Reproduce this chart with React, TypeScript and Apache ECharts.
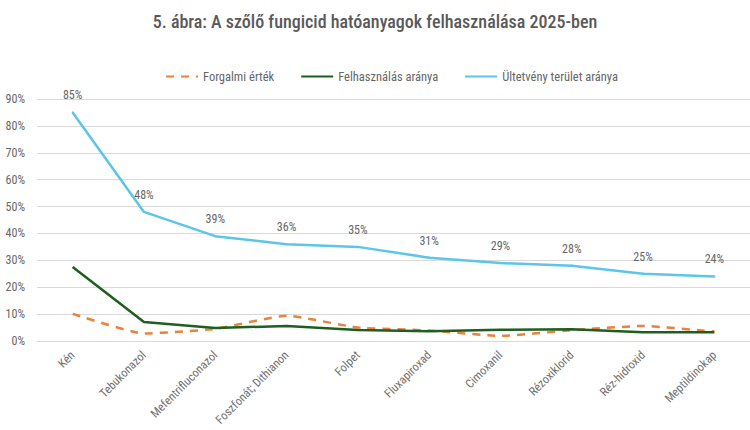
import React, { useEffect, useRef } from "react";
import * as echarts from "echarts";

const categories = [
  "Kén",
  "Tebukonazol",
  "Mefentrifluconazol",
  "Foszfonát; Dithianon",
  "Folpet",
  "Fluxapiroxad",
  "Cimoxanil",
  "Rézoxiklorid",
  "Réz-hidroxid",
  "Meptildinokap",
];
const forgalmiErtek = [10.1, 2.8, 4.5, 9.4, 5.0, 3.9, 1.9, 4.0, 5.6, 3.5];
const felhasznalasAranya = [27.5, 7.1, 4.8, 5.6, 4.1, 3.6, 4.2, 4.4, 3.3, 3.3];
const ultetvenyAranya = [85, 48, 39, 36, 35, 31, 29, 28, 25, 24];
const seriesNames = ["Forgalmi érték", "Felhasználás aránya", "Ültetvény terület aránya"];
const titleText = "5. ábra: A szőlő fungicid hatóanyagok felhasználása 2025-ben";

export default function App() {
  const ref = useRef<HTMLDivElement>(null);
  useEffect(() => {
    if (!ref.current) return;
    document.body.style.margin = "0";
    const chart = echarts.init(ref.current, undefined, { renderer: "svg" });
    const font = "'Roboto Condensed', 'Liberation Sans', sans-serif";
    chart.setOption({
      animation: false,
      backgroundColor: "#ffffff",
      title: {
        text: titleText,
        left: "center",
        top: 7,
        textStyle: {
          fontFamily: font,
          fontSize: 18,
          fontWeight: 500,
          color: "#595959",
        },
      },
      legend: {
        left: 160,
        top: 65,
        itemWidth: 32,
        itemHeight: 14,
        itemGap: 26,
        itemStyle: { opacity: 0 },
        textStyle: { fontFamily: font, fontSize: 12.5, color: "#666666" },
        data: seriesNames,
      },
      grid: { left: 37, top: 99, height: 242, width: 724 },
      xAxis: {
        type: "category",
        data: categories,
        boundaryGap: true,
        axisLine: { show: false },
        axisTick: { show: false },
        axisLabel: {
          rotate: 45,
          interval: 0,
          margin: 12,
          fontFamily: font,
          fontSize: 12,
          color: "#707070",
        },
      },
      yAxis: {
        type: "value",
        min: 0,
        max: 90,
        interval: 10,
        axisLine: { show: false },
        axisTick: { show: false },
        axisLabel: {
          formatter: "{value}%",
          fontFamily: font,
          fontSize: 12,
          color: "#666666",
          margin: 12,
        },
        splitLine: { lineStyle: { color: "#d9d9d9", width: 1 } },
      },
      series: [
        {
          name: seriesNames[0],
          type: "line",
          data: forgalmiErtek,
          symbol: "none",
          smooth: 0.15,
          color: "#E8823C",
          lineStyle: { color: "#E8823C", width: 2.5, type: [8, 7] },
          z: 3,
        },
        {
          name: seriesNames[1],
          type: "line",
          data: felhasznalasAranya,
          symbol: "none",
          smooth: false,
          color: "#1F5E1F",
          lineStyle: { color: "#1F5E1F", width: 2.5 },
          z: 4,
        },
        {
          name: seriesNames[2],
          type: "line",
          data: ultetvenyAranya,
          symbol: "circle",
          symbolSize: 2,
          showSymbol: true,
          smooth: false,
          color: "#5BC5EA",
          lineStyle: { color: "#5BC5EA", width: 2.5, join: "round" },
          label: {
            show: true,
            position: "top",
            distance: 10,
            formatter: "{c}%",
            fontFamily: font,
            fontSize: 12,
            color: "#666666",
          },
          z: 5,
        },
      ],
    });
    return () => chart.dispose();
  }, []);
  return <div ref={ref} style={{ width: 750, height: 430 }} />;
}
